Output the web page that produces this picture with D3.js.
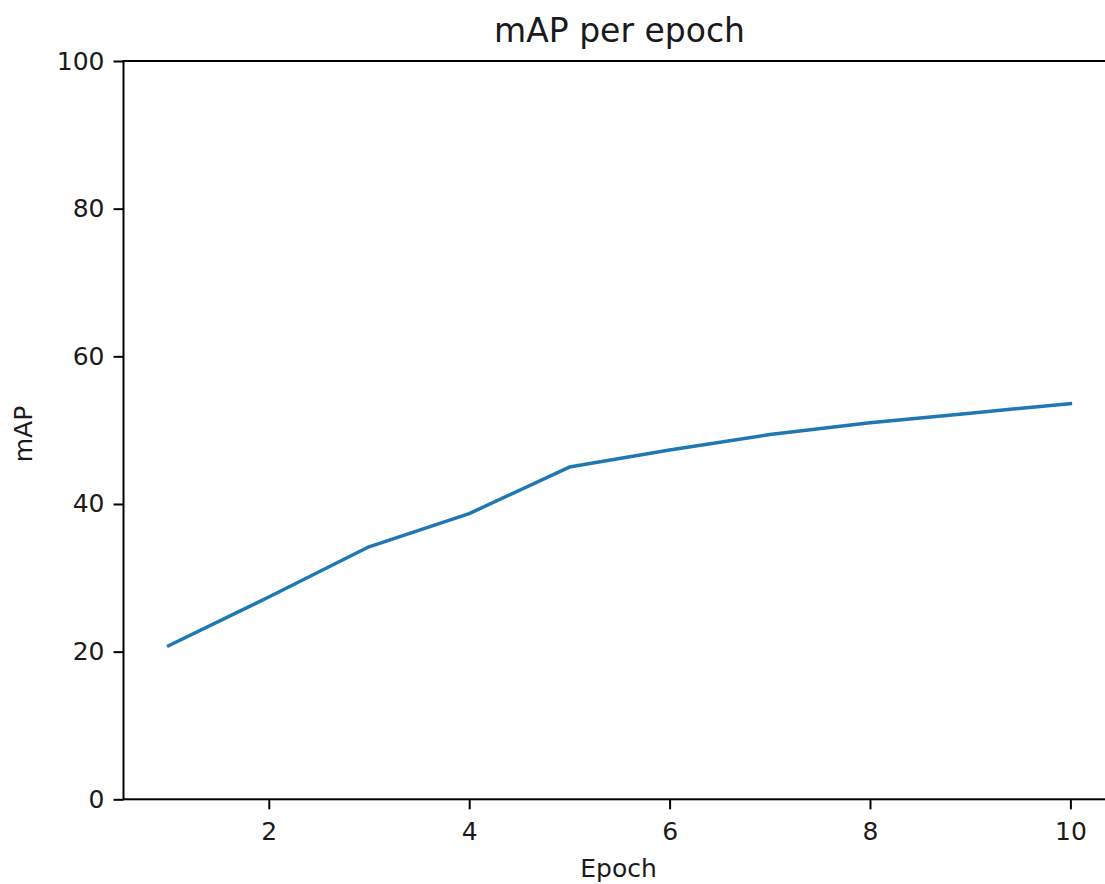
<!DOCTYPE html>
<html>
<head>
<meta charset="utf-8">
<script src="https://cdn.jsdelivr.net/npm/d3@7"></script>
<style>
  html, body { margin: 0; padding: 0; background: #fff; overflow: hidden; }
  svg { display: block; font-family: "DejaVu Sans", sans-serif; }
</style>
</head>
<body>
<svg id="chart" width="1105" height="884"></svg>
<script>
const epochs = [1, 2, 3, 4, 5, 6, 7, 8, 9, 10];
const mapValues = [20.8, 27.4, 34.2, 38.7, 45.0, 47.3, 49.4, 51.0, 52.3, 53.6];
const xTicks = [2, 4, 6, 8, 10];
const yTicks = [0, 20, 40, 60, 80, 100];
const titleText = "mAP per epoch";
const xLabel = "Epoch";
const yLabel = "mAP";

(function () {
  const svg = d3.select("#chart");
  const plotLeft = 123.5, plotTop = 61, plotBottom = 799.3;
  const pxPerUnit = 100.2;
  const x = d3.scaleLinear().domain([0.55, 10.45]).range([plotLeft, plotLeft + 9.9 * pxPerUnit]);
  const y = d3.scaleLinear().domain([0, 100]).range([plotBottom, plotTop]);

  // line
  const line = d3.line().x((d, i) => x(epochs[i])).y(d => y(d));
  svg.append("path")
    .datum(mapValues)
    .attr("d", line)
    .attr("fill", "none")
    .attr("stroke", "#1f77b4")
    .attr("stroke-width", 3.5)
    .attr("stroke-linecap", "square")
    .attr("stroke-linejoin", "round");

  // axes
  const xAxis = d3.axisBottom(x).tickValues(xTicks).tickFormat(d3.format("d")).tickSize(10).tickPadding(13);
  const yAxis = d3.axisLeft(y).tickValues(yTicks).tickFormat(d3.format("d")).tickSize(10).tickPadding(9);

  const gx = svg.append("g").attr("transform", `translate(0,${plotBottom})`).call(xAxis);
  const gy = svg.append("g").attr("transform", `translate(${plotLeft},0)`).call(yAxis);
  [gx, gy].forEach(g => {
    g.select(".domain").remove();
    g.selectAll(".tick line").attr("stroke", "#000").attr("stroke-width", 2);
    g.selectAll(".tick text").attr("fill", "#1a1a1a").style("font-size", "25px").style("font-family", "DejaVu Sans");
  });

  // frame (spines)
  svg.append("rect")
    .attr("x", plotLeft).attr("y", plotTop)
    .attr("width", x(10.45) - plotLeft).attr("height", plotBottom - plotTop)
    .attr("fill", "none").attr("stroke", "#000").attr("stroke-width", 2);

  // title and labels
  svg.append("text")
    .attr("x", (494 + 745) / 2).attr("y", 42)
    .attr("text-anchor", "middle")
    .style("font-size", "33px").attr("fill", "#1a1a1a")
    .text(titleText);

  svg.append("text")
    .attr("x", 618.5).attr("y", 877)
    .attr("text-anchor", "middle")
    .style("font-size", "25px").attr("fill", "#1a1a1a")
    .text(xLabel);

  svg.append("text")
    .attr("transform", `translate(32,434) rotate(-90)`)
    .attr("text-anchor", "middle")
    .style("font-size", "25px").attr("fill", "#1a1a1a")
    .text(yLabel);
})();
</script>
</body>
</html>
